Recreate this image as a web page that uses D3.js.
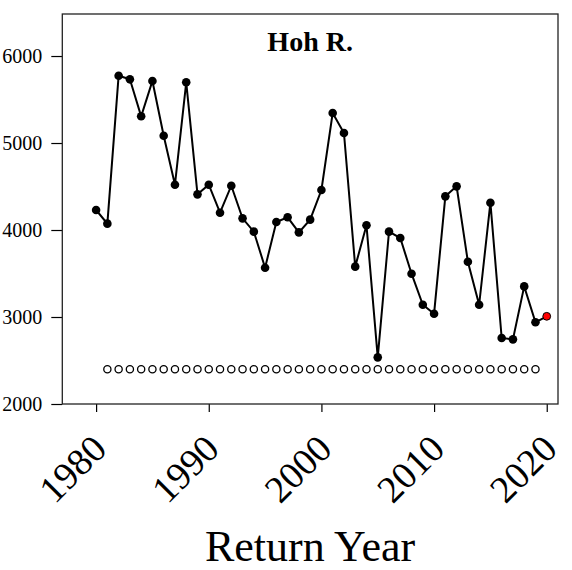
<!DOCTYPE html>
<html>
<head>
<meta charset="utf-8">
<script src="https://cdn.jsdelivr.net/npm/d3@7"></script>
<style>
  body { margin: 0; background: #fff; }
  svg { display: block; font-family: "Liberation Serif", "Times New Roman", serif; }
</style>
</head>
<body>
<svg id="chart"></svg>
<script>
// Hoh R. returns by year (last year is the forecast, drawn in red)
var years = [1980, 1981, 1982, 1983, 1984, 1985, 1986, 1987, 1988, 1989,
             1990, 1991, 1992, 1993, 1994, 1995, 1996, 1997, 1998, 1999,
             2000, 2001, 2002, 2003, 2004, 2005, 2006, 2007, 2008, 2009,
             2010, 2011, 2012, 2013, 2014, 2015, 2016, 2017, 2018, 2019, 2020];
var returns = [4230, 4073, 5774, 5732, 5307, 5713, 5084, 4521, 5698, 4410,
               4521, 4199, 4509, 4134, 3981, 3567, 4092, 4146, 3973, 4119,
               4460, 5345, 5115, 3579, 4054, 2536, 3981, 3908, 3498, 3141,
               3038, 4387, 4502, 3636, 3141, 4314, 2759, 2743, 3352, 2939, 3008];
var forecastYear = 2020;

// goal line of open circles
var goalYears = d3.range(1981, 2020);
var goalValue = 2400;

var xTicks = [1980, 1990, 2000, 2010, 2020];
var yTicks = [2000, 3000, 4000, 5000, 6000];
var title = "Hoh R.";
var xLabel = "Return Year";

var SERIF = '"Liberation Serif", "Times New Roman", serif';
var width = 572, height = 570;
var plotLeft = 62.3, plotRight = 558, plotTop = 14, plotBottom = 404;

var svg = d3.select("#chart").attr("width", width).attr("height", height);

var x = d3.scaleLinear().domain([1977, 2021]).range([plotLeft, plotRight]);
var y = d3.scaleLinear().domain([2000, 6483]).range([plotBottom, plotTop]);

var rows = years.map(function(yr, i) { return {year: yr, value: returns[i]}; });

// y axis
var yAxis = svg.append("g")
  .attr("transform", "translate(" + plotLeft + ",0)")
  .call(d3.axisLeft(y).tickValues(yTicks).tickSize(11).tickPadding(9).tickFormat(d3.format("d")))
  .attr("font-family", SERIF);
yAxis.select(".domain").remove();
yAxis.selectAll("line").attr("stroke", "#000").attr("stroke-width", 1.2);
yAxis.selectAll("text")
  .style("font-family", SERIF)
  .style("font-size", "20px").attr("fill", "#000");

// x axis, labels rotated like R's srt=45
var xAxis = svg.append("g")
  .attr("transform", "translate(0," + plotBottom + ")")
  .call(d3.axisBottom(x).tickValues(xTicks).tickSize(8).tickFormat(d3.format("d")))
  .attr("font-family", SERIF);
xAxis.select(".domain").remove();
xAxis.selectAll("line").attr("stroke", "#000").attr("stroke-width", 1.2);
xAxis.selectAll("text")
  .style("font-family", SERIF)
  .style("font-size", "38px").attr("fill", "#000")
  .attr("y", 0).attr("dy", null)
  .attr("text-anchor", "end")
  .attr("transform", "translate(12,47) rotate(-45)");

// goal circles
svg.append("g").selectAll("circle")
  .data(goalYears)
  .enter().append("circle")
  .attr("cx", function(d) { return x(d); })
  .attr("cy", y(goalValue))
  .attr("r", 3.6)
  .attr("fill", "#fff")
  .attr("stroke", "#000")
  .attr("stroke-width", 1.3);

// returns line
var line = d3.line()
  .x(function(d) { return x(d.year); })
  .y(function(d) { return y(d.value); });

svg.append("path")
  .datum(rows)
  .attr("d", line)
  .attr("fill", "none")
  .attr("stroke", "#000")
  .attr("stroke-width", 2);

svg.append("g").selectAll("circle")
  .data(rows)
  .enter().append("circle")
  .attr("cx", function(d) { return x(d.year); })
  .attr("cy", function(d) { return y(d.value); })
  .attr("r", function(d) { return d.year === forecastYear ? 3.9 : 4.3; })
  .attr("fill", function(d) { return d.year === forecastYear ? "#ff0000" : "#000"; })
  .attr("stroke", "#000")
  .attr("stroke-width", function(d) { return d.year === forecastYear ? 1 : 0; });

// plot box
svg.append("rect")
  .attr("x", plotLeft).attr("y", plotTop)
  .attr("width", plotRight - plotLeft).attr("height", plotBottom - plotTop)
  .attr("fill", "none")
  .attr("stroke", "#222")
  .attr("stroke-width", 1.3);

svg.append("text")
  .attr("x", (plotLeft + plotRight) / 2).attr("y", 50.5)
  .attr("text-anchor", "middle")
  .style("font-family", SERIF)
  .style("font-size", "28px").style("font-weight", "bold")
  .text(title);

svg.append("text")
  .attr("x", 310).attr("y", 561)
  .attr("text-anchor", "middle")
  .style("font-family", SERIF)
  .style("font-size", "44px")
  .text(xLabel);
</script>
</body>
</html>
